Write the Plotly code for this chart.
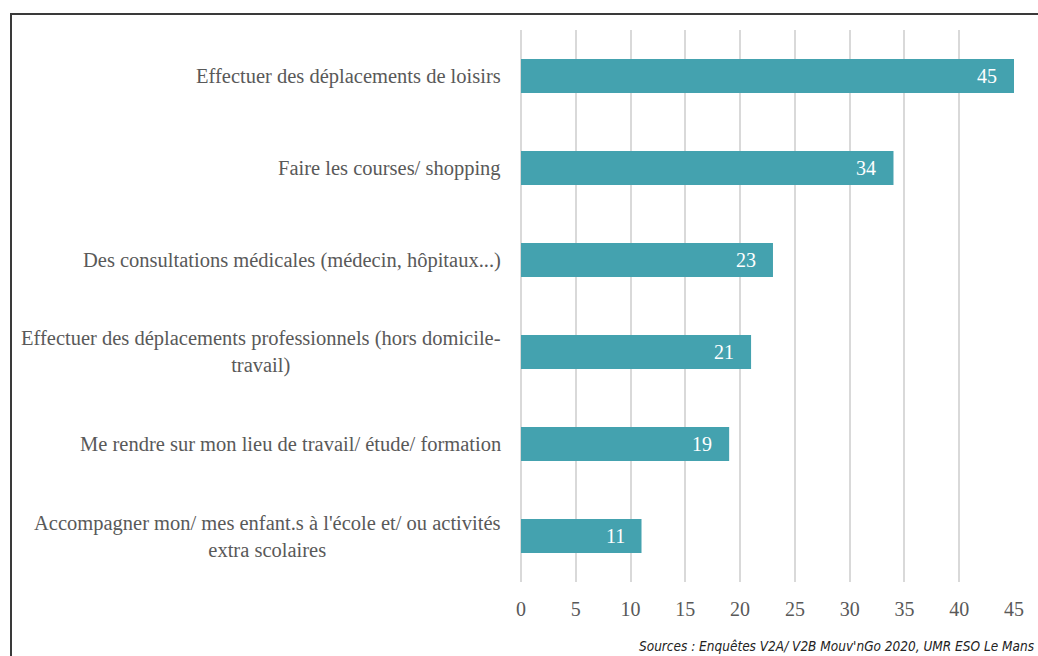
import plotly.graph_objects as go

categories = [
    "Effectuer des déplacements de loisirs",
    "Faire les courses/ shopping",
    "Des consultations médicales (médecin, hôpitaux...)",
    "Effectuer des déplacements professionnels (hors domicile-<br>travail)",
    "Me rendre sur mon lieu de travail/ étude/ formation",
    "Accompagner mon/ mes enfant.s à l'école et/ ou activités<br>extra scolaires",
]
values = [45, 34, 23, 21, 19, 11]
x_ticks = [0, 5, 10, 15, 20, 25, 30, 35, 40, 45]

W, H = 1038, 656
ML, MR, MT, MB = 521, 24, 30, 74
PW, PH = W - ML - MR, H - MT - MB

serif = "Liberation Serif, Times New Roman, serif"
teal = "#44A2AF"
grey = "#595959"

fig = go.Figure()
fig.add_trace(go.Bar(
    y=categories,
    x=values,
    orientation="h",
    marker=dict(color=teal, line=dict(width=0)),
    width=0.37,
    cliponaxis=False,
    hoverinfo="x+y",
))

# value labels inside the bar ends
for c, v in zip(categories, values):
    fig.add_annotation(
        x=v, y=c, xref="x", yref="y",
        xanchor="right", xshift=-15,
        text=str(v), showarrow=False,
        font=dict(family=serif, size=20, color="white"),
    )

# category labels, each line centred within its block
for c in categories:
    fig.add_annotation(
        x=0, y=c, xref="paper", yref="y",
        xanchor="right", xshift=-18,
        text=c, showarrow=False, align="center",
        font=dict(family=serif, size=20.5, color=grey),
    )

# outer frame
fig.add_shape(
    type="rect", xref="paper", yref="paper",
    x0=(11 - ML) / PW, x1=(W + 40 - ML) / PW,
    y0=-(H + 40 - (MT + PH)) / PH, y1=1 + (MT - 14) / PH,
    line=dict(color="#3a3a3a", width=2),
)

fig.add_annotation(
    x=(1037 - ML) / PW, y=-(646 - (MT + PH)) / PH, xref="paper", yref="paper",
    xanchor="right", yanchor="middle",
    text="<i>Sources : Enquêtes V2A/ V2B Mouv'nGo 2020, UMR ESO Le Mans</i>",
    showarrow=False,
    font=dict(family="DejaVu Sans Condensed, Liberation Sans Narrow, sans-serif", size=13.5, color="#222222"),
)

fig.update_layout(
    width=W, height=H,
    margin=dict(l=ML, r=MR, t=MT, b=MB, pad=0),
    paper_bgcolor="white", plot_bgcolor="white",
    showlegend=False,
    xaxis=dict(
        range=[0, 45], tickvals=x_ticks, showgrid=True, gridcolor="#d9d9d9", gridwidth=2,
        zeroline=True, zerolinecolor="#d9d9d9", zerolinewidth=2, showline=False,
        ticks="", tickfont=dict(family=serif, size=20, color=grey), ticklabelstandoff=13,
    ),
    yaxis=dict(
        autorange="reversed", showticklabels=False, showgrid=False, zeroline=False,
        showline=False, ticks="",
    ),
)

fig.write_html("out.html")
